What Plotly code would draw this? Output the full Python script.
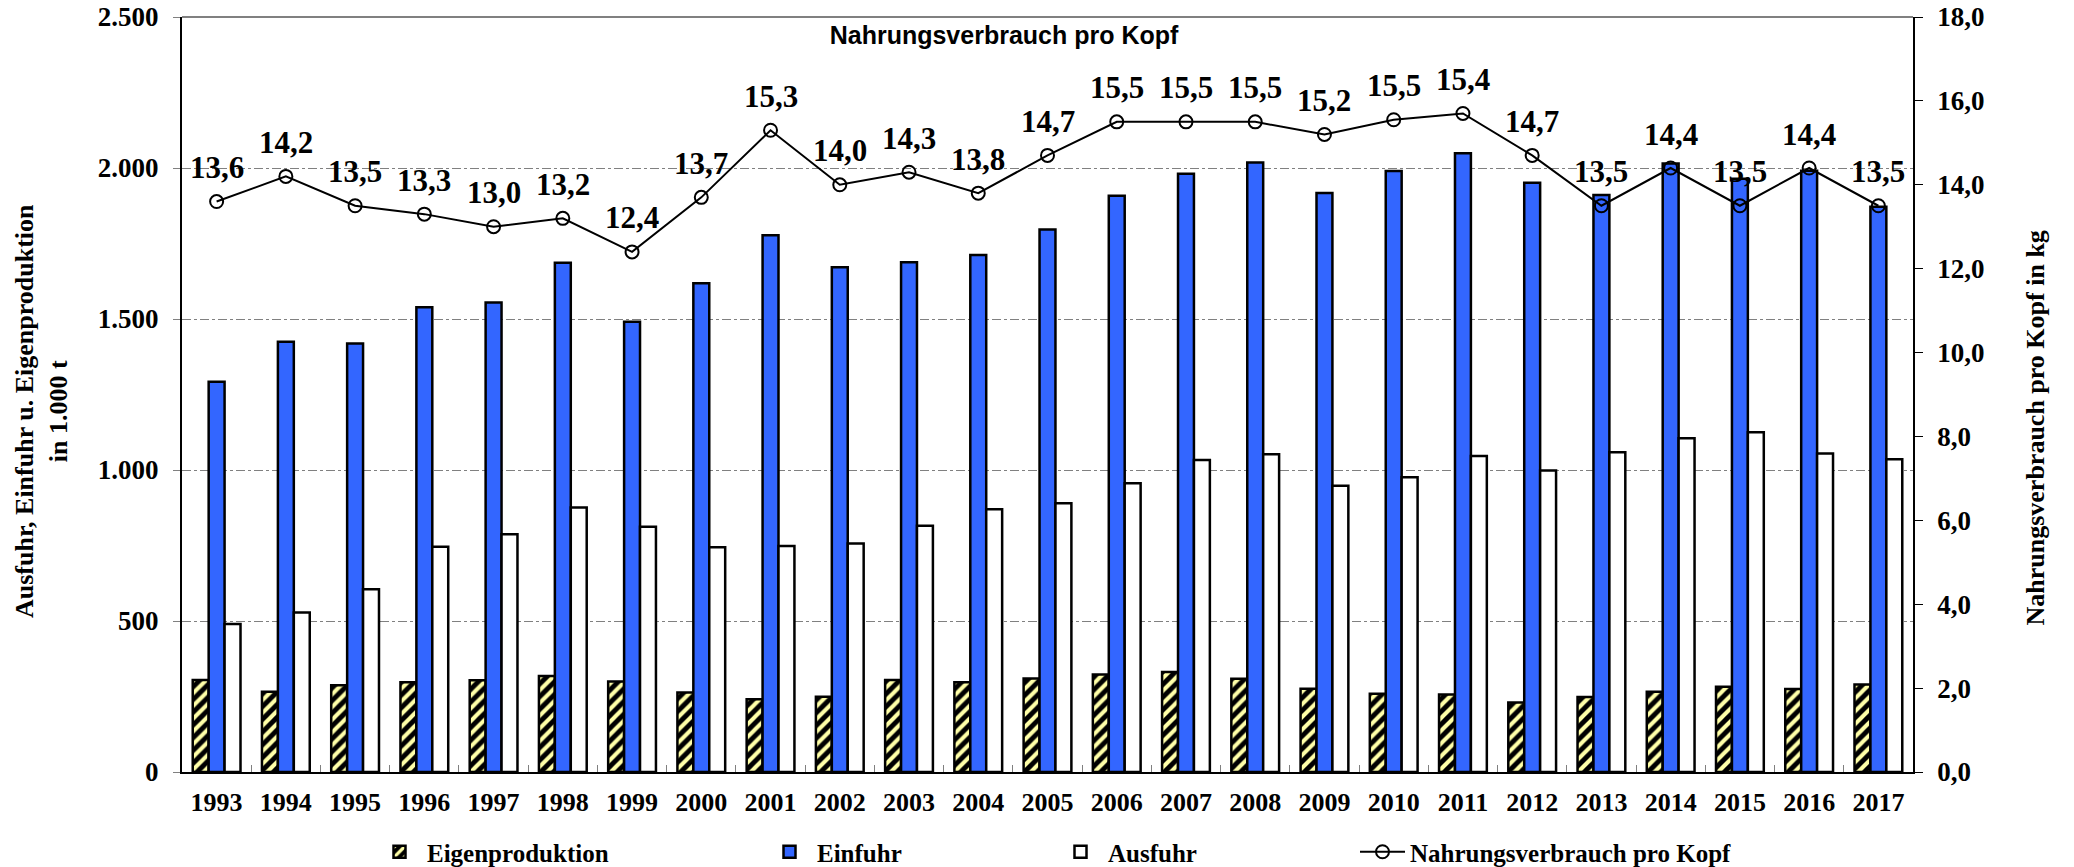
import plotly.graph_objects as go


# -------------------------------------------------
# Data
# -------------------------------------------------

years = [
    "1993", "1994", "1995", "1996", "1997", "1998", "1999", "2000", "2001",
    "2002", "2003", "2004", "2005", "2006", "2007", "2008", "2009", "2010",
    "2011", "2012", "2013", "2014", "2015", "2016", "2017",
]

eigenproduktion = [
    305, 266, 287, 297, 304, 318, 300, 263, 241, 249, 305, 297, 310,
    323, 331, 309, 276, 259, 257, 230, 248, 266, 282, 275, 290,
]

einfuhr = [
    1292, 1425, 1419, 1539, 1555, 1686, 1491, 1618, 1777, 1671, 1688, 1712, 1796,
    1908, 1981, 2018, 1917, 1990, 2049, 1951, 1911, 2015, 1964, 1991, 1872,
]

ausfuhr = [
    490, 528, 605, 746, 787, 876, 812, 744, 748, 757, 815, 870, 890,
    956, 1033, 1052, 948, 976, 1046, 998, 1059, 1105, 1125, 1055, 1036,
]

# marker positions as drawn, and the labels printed above them
pro_kopf = [
    13.6, 14.2, 13.5, 13.3, 13.0, 13.2, 12.4, 13.7, 15.3, 14.0, 14.3, 13.8, 14.7,
    15.5, 15.5, 15.5, 15.2, 15.55, 15.7, 14.7, 13.5, 14.4, 13.5, 14.4, 13.5,
]

pro_kopf_labels = [
    "13,6", "14,2", "13,5", "13,3", "13,0", "13,2", "12,4", "13,7", "15,3",
    "14,0", "14,3", "13,8", "14,7", "15,5", "15,5", "15,5", "15,2", "15,5",
    "15,4", "14,7", "13,5", "14,4", "13,5", "14,4", "13,5",
]

left_ticks = [0, 500, 1000, 1500, 2000, 2500]
right_ticks = [0, 2, 4, 6, 8, 10, 12, 14, 16, 18]


# -------------------------------------------------
# Styling
# -------------------------------------------------

# the page body adds an 8px margin, so the figure is 8px smaller
# and all page positions below are shifted by that amount
PAGE_W, PAGE_H = 2074, 867
OFF = 8
FW, FH = PAGE_W - OFF, PAGE_H - OFF

SERIF = "Liberation Serif"
BLUE = "#3366FF"
STRIPE = "#FFFFA8"
GRID = "#808080"


def bold(size, family=SERIF, color="black"):
    return dict(family=family, size=size, color=color, weight="bold")


def cx(px):
    # page x pixel -> container fraction
    return (px - OFF) / FW


def cy(px):
    # page y pixel -> container fraction
    return 1 - (px - OFF) / FH


# -------------------------------------------------
# Figure
# -------------------------------------------------

fig = go.Figure()

fig.add_trace(go.Bar(
    x=years,
    y=eigenproduktion,
    name="Eigenproduktion",
    legend="legend",
    marker=dict(
        color="black",
        line=dict(color="black", width=2.5),
        pattern=dict(
            shape="/",
            fgcolor=STRIPE,
            bgcolor="black",
            fillmode="replace",
            size=9,
            solidity=0.45
        )
    )
))

fig.add_trace(go.Bar(
    x=years,
    y=einfuhr,
    name="Einfuhr",
    legend="legend2",
    marker=dict(color=BLUE, line=dict(color="black", width=2.5))
))

fig.add_trace(go.Bar(
    x=years,
    y=ausfuhr,
    name="Ausfuhr",
    legend="legend3",
    marker=dict(color="white", line=dict(color="black", width=2.5))
))

fig.add_trace(go.Scatter(
    x=years,
    y=pro_kopf,
    name="Nahrungsverbrauch pro Kopf",
    legend="legend4",
    yaxis="y2",
    mode="lines+markers",
    line=dict(color="black", width=2),
    marker=dict(symbol="circle-open", size=13, color="black", line=dict(width=2))
))

# value labels above the line markers (category axis -> position by index)
for i, (value, label) in enumerate(zip(pro_kopf, pro_kopf_labels)):
    fig.add_annotation(
        x=i,
        y=value,
        xref="x",
        yref="y2",
        text=label,
        showarrow=False,
        yshift=34,
        font=bold(31)
    )

# axis titles
fig.add_annotation(
    x=-0.0815, y=0.478, xref="paper", yref="paper",
    xanchor="center", yanchor="middle",
    text="Ausfuhr, Einfuhr u. Eigenproduktion<br>in 1.000 t",
    textangle=-90, showarrow=False, font=bold(26)
)
fig.add_annotation(
    x=1.0705, y=0.455, xref="paper", yref="paper",
    xanchor="center", yanchor="middle",
    text="Nahrungsverbrauch pro Kopf in kg",
    textangle=-90, showarrow=False, font=bold(26)
)

# top border of the plot area
fig.add_shape(
    type="line", xref="paper", yref="paper",
    x0=0, x1=1, y0=1, y1=1,
    line=dict(color=GRID, width=2)
)

legend_style = dict(
    xref="container",
    yref="container",
    y=cy(852),
    xanchor="left",
    yanchor="middle",
    orientation="h",
    itemwidth=45,
    font=bold(25),
    bgcolor="rgba(0,0,0,0)"
)

fig.update_layout(
    width=FW,
    height=FH,
    paper_bgcolor="white",
    plot_bgcolor="white",
    separators=",.",
    barmode="group",
    bargap=0.31,
    bargroupgap=0,
    showlegend=True,
    margin=dict(
        l=182 - OFF,
        r=PAGE_W - 1913,
        t=17 - OFF,
        b=PAGE_H - 772,
        autoexpand=False
    ),
    title=dict(
        text="Nahrungsverbrauch pro Kopf",
        font=bold(25, family="Liberation Sans"),
        xref="container",
        yref="container",
        x=cx(1004),
        y=cy(35),
        xanchor="center",
        yanchor="middle"
    ),
    legend=dict(legend_style, x=cx(427 - 55)),
    legend2=dict(legend_style, x=cx(817 - 55)),
    legend3=dict(legend_style, x=cx(1108 - 55)),
    legend4=dict(legend_style, x=cx(1410 - 55)),
)

fig.update_xaxes(
    type="category",
    range=[-0.5, len(years) - 0.5],
    showline=True,
    linecolor="black",
    linewidth=2,
    ticks="inside",
    tickson="boundaries",
    ticklen=7,
    tickcolor=GRID,
    tickangle=0,
    tickfont=bold(26),
    ticklabelstandoff=6,
    showgrid=False
)

fig.update_layout(
    yaxis=dict(
        range=[0, 2500],
        tickvals=left_ticks,
        tickformat=",d",
        ticklabeloverflow="allow",
        showline=True,
        linecolor="black",
        linewidth=2,
        ticks="outside",
        ticklen=7,
        tickcolor=GRID,
        tickfont=bold(27),
        ticklabelstandoff=9,
        showgrid=True,
        gridcolor=GRID,
        griddash="dashdot",
        gridwidth=1,
        zeroline=False
    ),
    yaxis2=dict(
        overlaying="y",
        side="right",
        range=[0, 18],
        tickvals=right_ticks,
        tickformat=".1f",
        ticklabeloverflow="allow",
        showline=True,
        linecolor="black",
        linewidth=1.5,
        ticks="outside",
        ticklen=8,
        tickcolor="black",
        tickfont=bold(27),
        ticklabelstandoff=9,
        showgrid=False,
        zeroline=False
    )
)

fig.write_html("out.html")
